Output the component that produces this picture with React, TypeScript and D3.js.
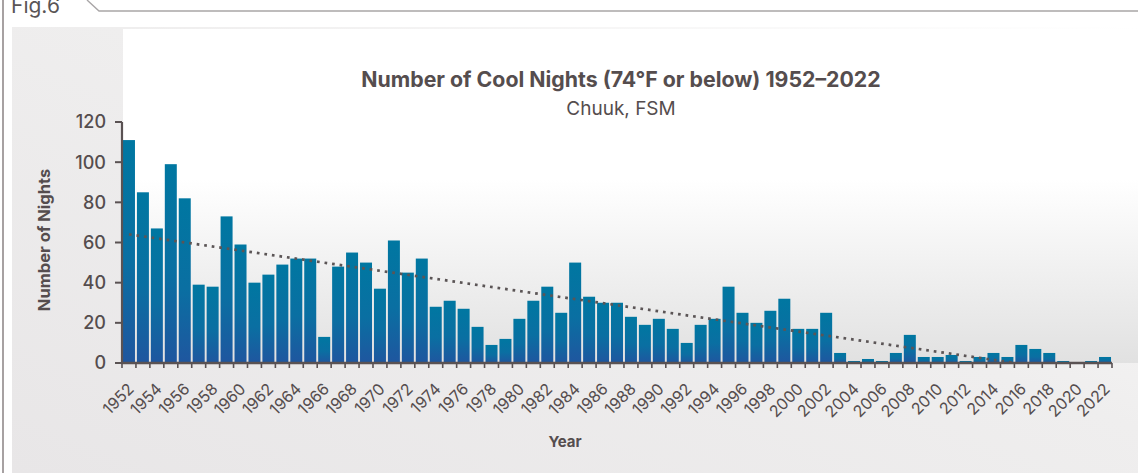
import * as d3 from 'd3';

const years = d3.range(1952, 2023);
const coolNights = [
  111, 85, 67, 99, 82, 39, 38, 73, 59, 40,
  44, 49, 52, 52, 13, 48, 55, 50, 37, 61,
  45, 52, 28, 31, 27, 18, 9, 12, 22, 31,
  38, 25, 50, 33, 30, 30, 23, 19, 22, 17,
  10, 19, 22, 38, 25, 20, 26, 32, 17, 17,
  25, 5, 1, 2, 1, 5, 14, 3, 3, 4,
  1, 3, 5, 3, 9, 7, 5, 1, 0, 1,
  3,
];
const yTicks = [0, 20, 40, 60, 80, 100, 120];
const labelYears = years.filter((y) => (y - 1952) % 2 === 0);

const W = 1138;
const H = 475;
const margin = { top: 122, right: 26, bottom: 112, left: 122 };
const TEXT = '#554d4e';
const FONT = 'Inter, Roboto, "Noto Sans", sans-serif';

export default function App() {
  const x = d3.scaleBand<number>()
    .domain(years)
    .range([margin.left, W - margin.right])
    .paddingInner(0.14)
    .paddingOuter(0.07);
  const y = d3.scaleLinear().domain([0, 120]).range([H - margin.bottom, margin.top]);
  const base = y(0);
  const step = x.step();
  const axisStart = margin.left;
  const axisEnd = W - margin.right;

  // least-squares trend over the series, stopped where it reaches zero
  const n = years.length;
  const meanX = d3.mean(years)!;
  const meanY = d3.mean(coolNights)!;
  const slope =
    d3.sum(years, (yr, i) => (yr - meanX) * (coolNights[i] - meanY)) /
    d3.sum(years, (yr) => (yr - meanX) ** 2);
  const at = (yr: number) => meanY + slope * (yr - meanX);
  const zeroYear = Math.min(years[n - 1], meanX - meanY / slope);
  const center = (yr: number) => x(yr)! + x.bandwidth() / 2;
  const trendX = d3.scaleLinear().domain([years[0], years[1]]).range([center(years[0]), center(years[1])]);
  const trend = d3.line<number>()
    .x((yr) => trendX(yr))
    .y((yr) => y(Math.max(0, at(yr))));

  return (
    <svg width={W} height={H} style={{ position: 'absolute', left: 0, top: 0, fontFamily: FONT }}>
      <defs>
        <linearGradient id="panelBg" x1="0" y1="1" x2="1" y2="0">
          <stop offset="0%" stopColor="#e8e6e7" />
          <stop offset="55%" stopColor="#efeeee" />
          <stop offset="100%" stopColor="#ffffff" />
        </linearGradient>
        <linearGradient id="plotBg" x1="0" y1="0" x2="0" y2="1">
          <stop offset="0%" stopColor="#ffffff" />
          <stop offset="45%" stopColor="#ffffff" />
          <stop offset="100%" stopColor="#e1e1e1" />
        </linearGradient>
        <linearGradient id="barFill" x1="0" y1="0" x2="0" y2="1">
          <stop offset="0%" stopColor="#0077a1" />
          <stop offset="55%" stopColor="#0a6fa2" />
          <stop offset="100%" stopColor="#1f569f" />
        </linearGradient>
      </defs>

      <rect width={W} height={H} fill="#ffffff" />
      {/* figure tab */}
      <text x={11} y={13} fontSize={21} fill="#5a5556">Fig.6</text>
      <polyline points={`87,0 99,11 ${W},11`} fill="none" stroke="#a9a6a7" strokeWidth={1.4} />
      <line x1={3} x2={3} y1={0} y2={H - 2} stroke="#8a8283" strokeWidth={1.5} />

      {/* chart + plot backgrounds */}
      <rect x={12} y={27} width={W - 12} height={446} fill="url(#panelBg)" />
      <rect x={123} y={29} width={W - 123} height={base - 29} fill="url(#plotBg)" />

      {/* bars */}
      {years.map((yr, i) => (
        <rect
          key={yr}
          x={x(yr)}
          y={y(coolNights[i])}
          width={x.bandwidth()}
          height={base - y(coolNights[i])}
          fill="url(#barFill)"
        />
      ))}

      {/* trend */}
      <path
        d={trend([years[0], zeroYear]) ?? undefined}
        fill="none"
        stroke="#5b5556"
        strokeWidth={2.7}
        strokeDasharray="2.7 4.9"
      />

      {/* y axis */}
      <line x1={axisStart} x2={axisStart} y1={y(120)} y2={base} stroke="#5a5253" strokeWidth={2.2} />
      {yTicks.map((t) => (
        <g key={t}>
          <line x1={axisStart - 7} x2={axisStart} y1={y(t)} y2={y(t)} stroke="#5a5253" strokeWidth={2} />
          <text x={106} y={y(t)} dy="0.36em" textAnchor="end" fontSize={18} fontWeight={500} fill={TEXT}>{t}</text>
        </g>
      ))}

      {/* x axis */}
      <line x1={axisStart - 1} x2={axisEnd} y1={base} y2={base} stroke="#5a5253" strokeWidth={2.4} />
      {d3.range(n + 1).map((i) => (
        <line key={i} x1={axisStart + i * step} x2={axisStart + i * step} y1={base} y2={base + 5} stroke="#5a5253" strokeWidth={1.6} />
      ))}
      {labelYears.map((yr) => (
        <text
          key={yr}
          transform={`translate(${center(yr) + 6},${base + 27}) rotate(-45)`}
          textAnchor="end"
          fontSize={16}
          fill={TEXT}
        >
          {yr}
        </text>
      ))}

      {/* titles */}
      <text x={621} y={87} textAnchor="middle" fontSize={21.3} fontWeight={700} fill={TEXT}>
        Number of Cool Nights (74°F or below) 1952–2022
      </text>
      <text x={621} y={115} textAnchor="middle" fontSize={19} fill={TEXT}>Chuuk, FSM</text>
      <text transform="translate(44,240) rotate(-90)" textAnchor="middle" dy="0.35em" fontSize={16.5} fontWeight={700} fill={TEXT}>
        Number of Nights
      </text>
      <text x={565} y={447} textAnchor="middle" fontSize={15} fontWeight={700} fill={TEXT}>Year</text>
    </svg>
  );
}
